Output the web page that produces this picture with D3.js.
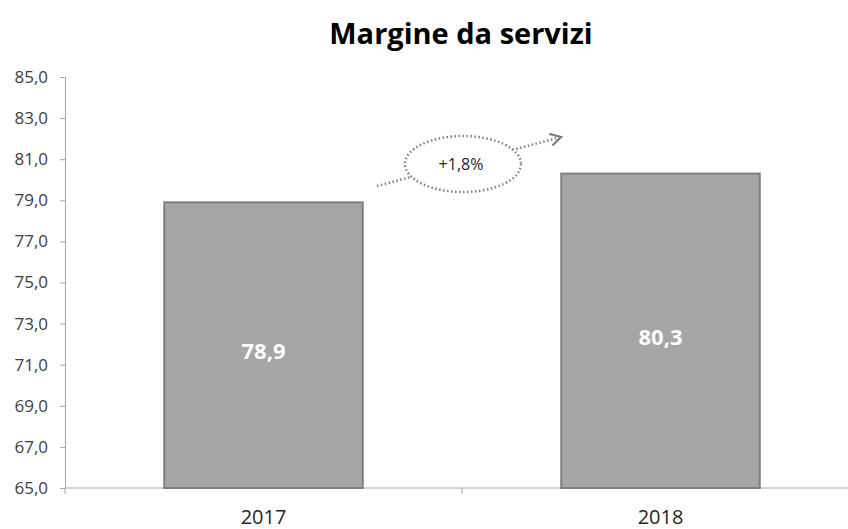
<!DOCTYPE html>
<html>
<head>
<meta charset="utf-8">
<script src="https://cdn.jsdelivr.net/npm/d3@7"></script>
<style>
  body { margin: 0; background: #fff; }
  text { font-family: "Open Sans", "Noto Sans", sans-serif; }
</style>
</head>
<body>
<script>
// chart data
var years = ["2017", "2018"];
var values = [78.9, 80.3];
var yTicks = [65, 67, 69, 71, 73, 75, 77, 79, 81, 83, 85];
var deltaLabel = "+1,8%";
var title = "Margine da servizi";

window.onload = drawChart();

function drawChart(){
    var width = 848,
        height = 529;

    var margin = {top: 77, right: -11, bottom: 41, left: 65};

    var svg = d3.select("body")
        .append("svg")
        .attr("width", width)
        .attr("height", height);

    var fmt = function(d){ return d3.format(".1f")(d).replace(".", ","); };

    // scales
    var x = d3.scaleBand()
        .domain(years)
        .range([margin.left, width - margin.right])
        .paddingInner(0.5)
        .paddingOuter(0.25);

    var y = d3.scaleLinear()
        .domain([65, 85])
        .range([height - margin.bottom, margin.top]);

    // title
    svg.append("text")
        .attr("x", 461)
        .attr("y", 44)
        .attr("text-anchor", "middle")
        .style("font-size", "29px")
        .style("font-weight", "bold")
        .style("fill", "#000")
        .text(title);

    // y axis
    var yAxis = svg.append("g")
        .attr("transform", "translate(" + margin.left + ",0)")
        .call(d3.axisLeft(y).tickValues(yTicks).tickFormat(fmt).tickSize(5).tickPadding(12));
    yAxis.select(".domain").attr("stroke", "#a6a6a6");
    yAxis.selectAll(".tick line").attr("stroke", "#a6a6a6");
    yAxis.selectAll(".tick text")
        .style("font-size", "17px")
        .style("fill", "#404040");

    // x axis with category boundary ticks
    var xAxis = svg.append("g")
        .attr("transform", "translate(0," + y(65) + ")");
    xAxis.append("line")
        .attr("x1", margin.left)
        .attr("x2", width)
        .attr("stroke", "#a6a6a6");
    var step = x.step();
    var bounds = [0, 1, 2].map(function(i){ return margin.left + i * step; });
    xAxis.selectAll(".bt")
        .data(bounds)
        .enter()
        .append("line")
        .attr("x1", function(d){ return d; })
        .attr("x2", function(d){ return d; })
        .attr("y1", 0)
        .attr("y2", 6)
        .attr("stroke", "#a6a6a6");
    xAxis.selectAll(".lbl")
        .data(years)
        .enter()
        .append("text")
        .attr("x", function(d){ return x(d) + x.bandwidth() / 2; })
        .attr("y", 36)
        .attr("text-anchor", "middle")
        .style("font-size", "20px")
        .style("fill", "#262626")
        .text(function(d){ return d; });

    // bars
    svg.selectAll(".bar")
        .data(values)
        .enter()
        .append("rect")
        .attr("class", "bar")
        .attr("x", function(d, i){ return x(years[i]); })
        .attr("y", function(d){ return y(d); })
        .attr("width", x.bandwidth())
        .attr("height", function(d){ return y(65) - y(d); })
        .attr("fill", "#a6a6a6")
        .attr("stroke", "#7f7f7f")
        .attr("stroke-width", 2);

    // value labels
    svg.selectAll(".val")
        .data(values)
        .enter()
        .append("text")
        .attr("x", function(d, i){ return x(years[i]) + x.bandwidth() / 2; })
        .attr("y", function(d){ return (y(d) + y(65)) / 2 + 14; })
        .attr("text-anchor", "middle")
        .style("font-size", "22px")
        .style("font-weight", "bold")
        .style("fill", "#fff")
        .text(fmt);

    // growth arrow with dotted ellipse
    svg.append("defs").append("marker")
        .attr("id", "arr")
        .attr("viewBox", "0 0 10 10")
        .attr("refX", 8)
        .attr("refY", 5)
        .attr("markerWidth", 6)
        .attr("markerHeight", 6)
        .attr("orient", "auto")
        .append("path")
        .attr("d", "M1,1 L8,5 L1,9")
        .attr("fill", "none")
        .attr("stroke", "#7f7f7f")
        .attr("stroke-width", 1.5);

    svg.append("line")
        .attr("x1", 377)
        .attr("y1", 186)
        .attr("x2", 561)
        .attr("y2", 137)
        .attr("stroke", "#7f7f7f")
        .attr("stroke-width", 2.5)
        .attr("stroke-dasharray", "1.5,2.5")
        .attr("marker-end", "url(#arr)");

    svg.append("ellipse")
        .attr("cx", 463)
        .attr("cy", 164)
        .attr("rx", 58)
        .attr("ry", 28)
        .attr("fill", "#fff")
        .attr("stroke", "#7f7f7f")
        .attr("stroke-width", 2.5)
        .attr("stroke-dasharray", "1.5,2.5");

    svg.append("text")
        .attr("x", 461)
        .attr("y", 170)
        .attr("text-anchor", "middle")
        .style("font-size", "16px")
        .style("fill", "#262626")
        .text(deltaLabel);
}
</script>
</body>
</html>
